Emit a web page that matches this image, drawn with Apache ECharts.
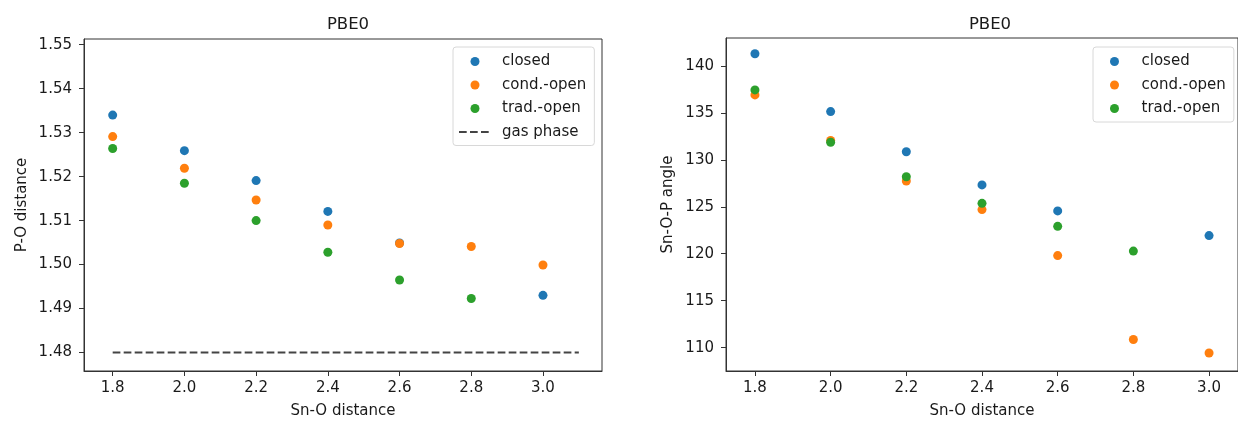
<!DOCTYPE html>
<html>
<head>
<meta charset="utf-8">
<script src="https://cdn.jsdelivr.net/npm/echarts@6/dist/echarts.min.js"></script>
<style>
  html, body { margin: 0; padding: 0; background: #fff; }
  #chart { width: 1238px; height: 424px; }
</style>
</head>
<body>
<div id="chart"></div>
<script>
// Sn-O distances sampled in both panels
const snO = [1.8, 2.0, 2.2, 2.4, 2.6, 2.8, 3.0];

// P-O distance per configuration (null = no structure at that distance)
const poClosed = [1.5340, 1.5259, 1.5191, 1.5121, 1.5049, null, 1.4930];
const poCond   = [1.5291, 1.5219, 1.5147, 1.5090, 1.5048, 1.5041, 1.4999];
const poTrad   = [1.5264, 1.5185, 1.5100, 1.5028, 1.4965, 1.4923, null];

// gas-phase reference P-O distance, drawn across this Sn-O span
const gasPhase = 1.48;
const gasSpan = [1.8, 3.1];

// Sn-O-P angle per configuration
const angClosed = [141.30, 135.14, 130.86, 127.33, 124.56, null, 121.93];
const angCond   = [136.92, 132.06, 127.75, 124.70, 119.80, 110.87, 109.43];
const angTrad   = [137.45, 131.88, 128.20, 125.37, 122.92, 120.28, null];

// tick labels
const xTicks = [1.8, 2.0, 2.2, 2.4, 2.6, 2.8, 3.0];
const poTicks = [1.48, 1.49, 1.50, 1.51, 1.52, 1.53, 1.54, 1.55];
const angTicks = [110, 115, 120, 125, 130, 135, 140];

const seriesNames = ['closed', 'cond.-open', 'trad.-open'];
const colors = ['#1f77b4', '#ff7f0e', '#2ca02c'];
const FONT = 'DejaVu Sans';
const TXT = '#1a1a1a';
const TICK_FS = 15;

function pairs(ys) {
  const out = [];
  snO.forEach((x, i) => { if (ys[i] !== null) out.push([x, ys[i]]); });
  return out;
}

function xAxis(gridIndex, min, max) {
  return {
    type: 'value', gridIndex, min, max,
    name: 'Sn-O distance', nameLocation: 'middle', nameGap: 33,
    nameTextStyle: { fontFamily: FONT, fontSize: TICK_FS, color: TXT },
    splitLine: { show: false },
    axisLine: { onZero: false, lineStyle: { color: '#333', width: 1 } },
    axisTick: { customValues: xTicks, length: 5, lineStyle: { color: '#333' } },
    axisLabel: {
      customValues: xTicks, margin: 10,
      fontFamily: FONT, fontSize: TICK_FS, color: TXT,
      formatter: v => v.toFixed(1)
    }
  };
}

function yAxis(gridIndex, min, max, ticks, label, gap, digits) {
  return {
    type: 'value', gridIndex, min, max,
    name: label, nameLocation: 'middle', nameGap: gap, nameRotate: 90,
    nameTextStyle: { fontFamily: FONT, fontSize: TICK_FS, color: TXT },
    splitLine: { show: false },
    axisLine: { show: true, onZero: false, lineStyle: { color: '#333', width: 1 } },
    axisTick: { show: true, customValues: ticks, length: 5, lineStyle: { color: '#333' } },
    axisLabel: {
      customValues: ticks, margin: 12,
      fontFamily: FONT, fontSize: TICK_FS, color: TXT,
      formatter: v => v.toFixed(digits)
    }
  };
}

function scatter(name, ys, idx, color) {
  return {
    type: 'scatter', name, xAxisIndex: idx, yAxisIndex: idx,
    symbolSize: 9, data: pairs(ys),
    itemStyle: { color, opacity: 1 },
    emphasis: { disabled: true }
  };
}

function legend(left, names, padLeft) {
  return {
    orient: 'vertical', left, top: 47,
    data: names,
    padding: [7, 8, 6, padLeft],
    itemWidth: 32, itemHeight: 9, itemGap: 8.5,
    borderColor: '#d8d8d8', borderWidth: 1, borderRadius: 3,
    backgroundColor: 'rgba(255,255,255,0.8)',
    textStyle: { fontFamily: FONT, fontSize: TICK_FS, color: TXT, lineHeight: 14, padding: [0, 0, 0, 6] },
    selectedMode: false
  };
}

const chart = echarts.init(document.getElementById('chart'), null, { renderer: 'canvas' });

chart.setOption({
  animation: false,
  backgroundColor: '#fff',
  title: [
    { text: 'PBE0', left: 343, top: 11, textAlign: 'center',
      textStyle: { fontFamily: FONT, fontSize: 16.5, fontWeight: 'normal', color: TXT } },
    { text: 'PBE0', left: 985, top: 11, textAlign: 'center',
      textStyle: { fontFamily: FONT, fontSize: 16.5, fontWeight: 'normal', color: TXT } }
  ],
  grid: [
    { left: 84, top: 39, right: 636, bottom: 48, show: true, borderColor: '#333', borderWidth: 1 },
    { left: 726, top: 38, right: -6, bottom: 48, show: true, borderColor: '#333', borderWidth: 1 }
  ],
  xAxis: [xAxis(0, 1.72, 3.1646), xAxis(1, 1.7235, 3.0765)],
  yAxis: [
    yAxis(0, 1.4758, 1.5513, poTicks, 'P-O distance', 54, 2),
    yAxis(1, 107.51, 142.98, angTicks, 'Sn-O-P angle', 50, 0)
  ],
  legend: [
    legend(453, seriesNames.concat([{ name: 'gas phase', itemStyle: { opacity: 0 } }]), 5),
    legend(1093, seriesNames, 17)
  ],
  series: [
    scatter('closed', poClosed, 0, colors[0]),
    scatter('cond.-open', poCond, 0, colors[1]),
    scatter('trad.-open', poTrad, 0, colors[2]),
    {
      type: 'line', name: 'gas phase', xAxisIndex: 0, yAxisIndex: 0,
      data: gasSpan.map(x => [x, gasPhase]),
      showSymbol: false, symbol: 'none',
      lineStyle: { color: '#444', width: 2, type: [7.7, 3.3] },
      itemStyle: { color: '#444' },
      emphasis: { disabled: true }
    },
    scatter('closed', angClosed, 1, colors[0]),
    scatter('cond.-open', angCond, 1, colors[1]),
    scatter('trad.-open', angTrad, 1, colors[2])
  ]
});
</script>
</body>
</html>
